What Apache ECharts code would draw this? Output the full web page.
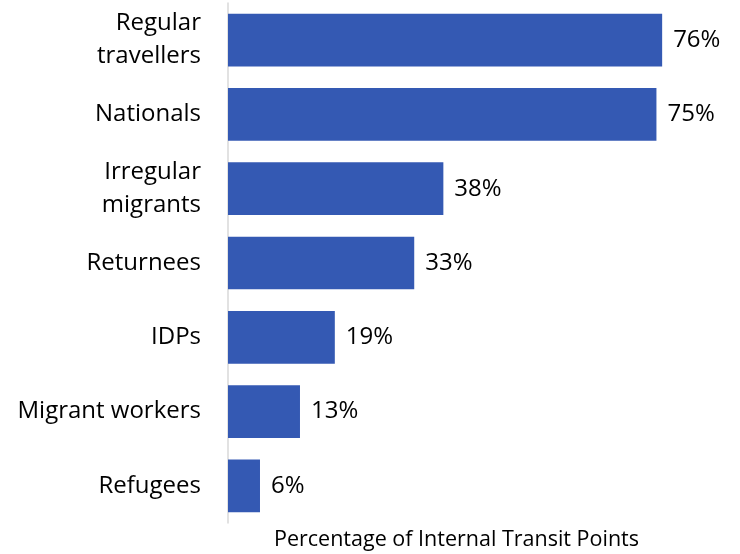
<!DOCTYPE html>
<html>
<head>
<meta charset="utf-8">
<script src="https://cdn.jsdelivr.net/npm/echarts@6/dist/echarts.min.js"></script>
<style>
  html, body { margin: 0; padding: 0; background: #fff; }
  #main { width: 740px; height: 554px; }
</style>
</head>
<body>
<div id="main"></div>
<script>
// top to bottom as shown in the picture
const categories = ['Regular\ntravellers', 'Nationals', 'Irregular\nmigrants', 'Returnees', 'IDPs', 'Migrant workers', 'Refugees'];
const values = [76, 75, 37.7, 32.6, 18.7, 12.6, 5.6];
const axisTitle = 'Percentage of Internal Transit Points';

const myChart = echarts.init(document.getElementById('main'));
const font = '"Open Sans", sans-serif';

const options = {
  animation: false,
  grid: { left: 228, right: 55, top: 3, bottom: 31, outerBoundsMode: 'none' },
  xAxis: {
    type: 'value',
    min: 0,
    max: 80,
    axisLine: { show: false },
    axisTick: { show: false },
    axisLabel: { show: false },
    splitLine: { show: false },
    name: axisTitle,
    nameLocation: 'middle',
    nameGap: 6,
    nameTextStyle: { fontFamily: font, fontSize: 21.5, lineHeight: 22, color: '#000' }
  },
  yAxis: {
    type: 'category',
    inverse: true,
    data: categories,
    axisLine: { show: true, lineStyle: { color: '#d9d9d9', width: 1.5 } },
    axisTick: { show: false },
    axisLabel: {
      margin: 27,
      fontFamily: font,
      fontSize: 24,
      lineHeight: 33,
      color: '#000'
    }
  },
  series: [
    {
      type: 'bar',
      data: values,
      barCategoryGap: '29%',
      itemStyle: { color: '#3459b3' },
      label: {
        show: true,
        position: 'right',
        distance: 11,
        fontFamily: font,
        fontSize: 24,
        color: '#000',
        formatter: p => Math.round(p.value) + '%'
      }
    }
  ]
};
myChart.setOption(options);
</script>
</body>
</html>
